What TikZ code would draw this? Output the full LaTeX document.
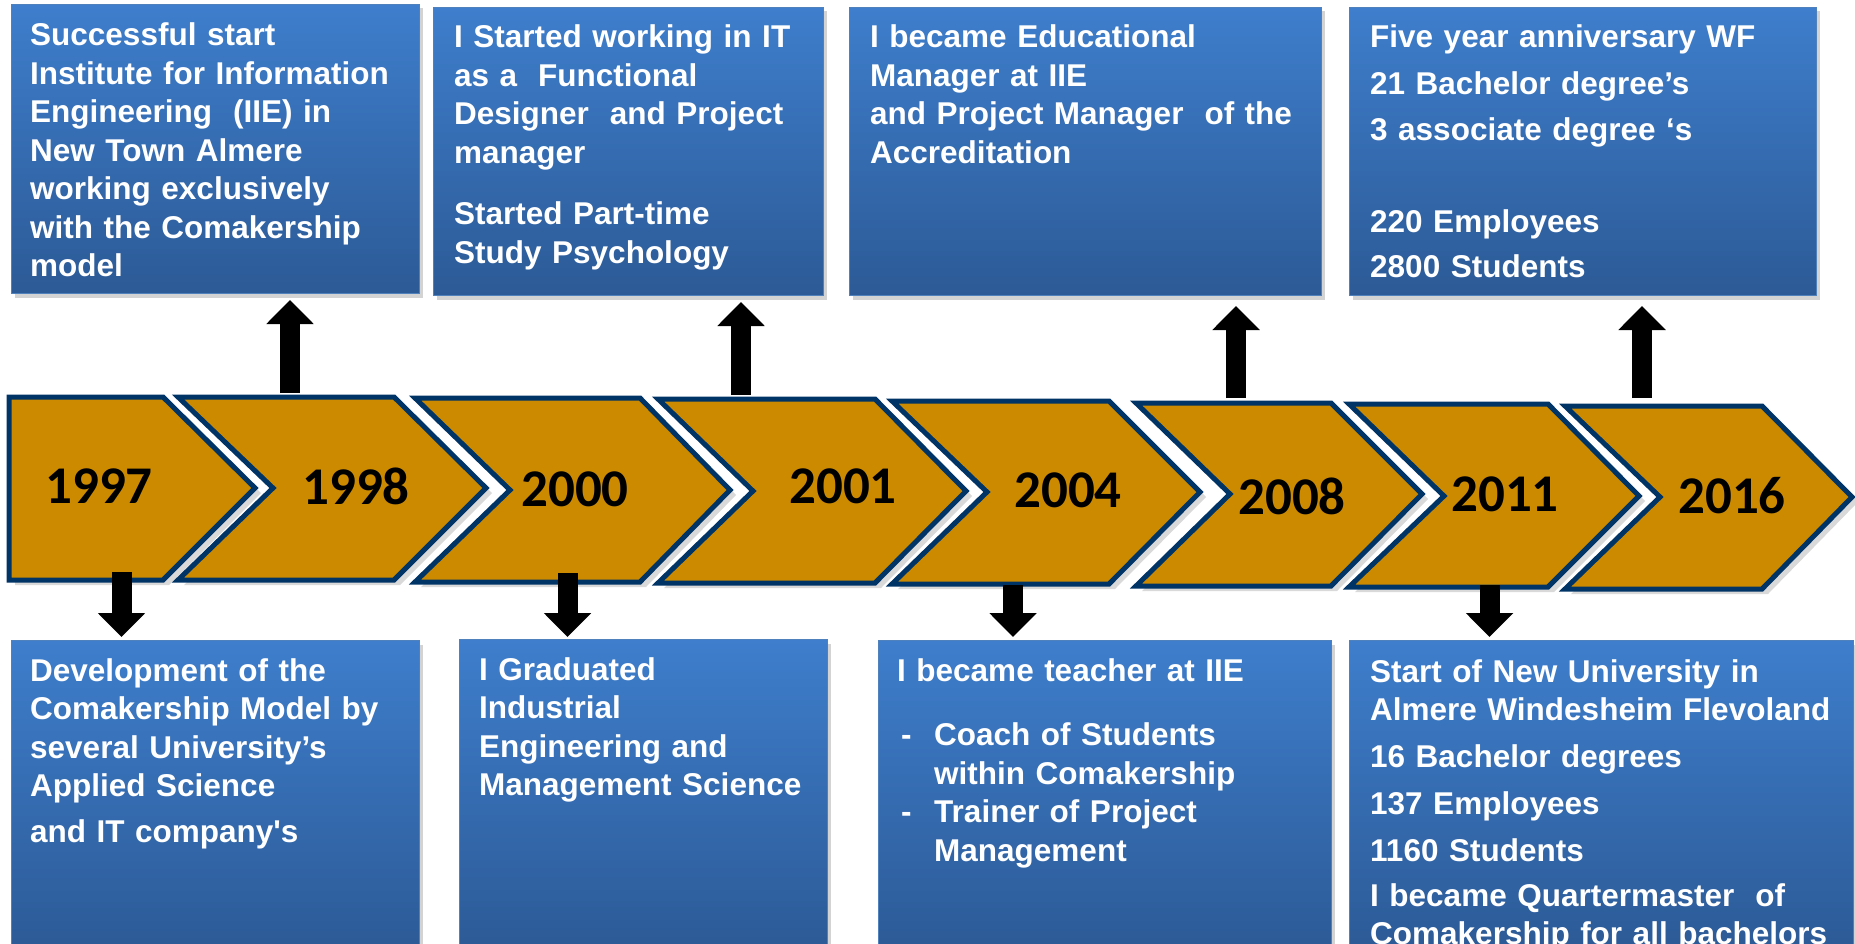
\documentclass[tikz,border=0pt]{standalone}
\usepackage{fontspec}
\usetikzlibrary{arrows.meta,shadows}
\newfontfamily\cardfamily{Liberation Sans}[Ligatures=TeXOff]
\newfontfamily\yearfamily{Carlito}
\definecolor{cardtop}{RGB}{62,126,204}
\definecolor{cardbot}{RGB}{44,90,150}
\definecolor{cardedge}{RGB}{79,129,189}
\definecolor{chevfill}{RGB}{204,138,0}
\definecolor{chevline}{RGB}{0,51,102}

\begin{document}
\begin{tikzpicture}
      [x=1pt, y=-1pt,
       card/.style={anchor=north west, inner sep=0pt, top color=cardtop, bottom color=cardbot,
         draw=cardedge, line width=1pt,
         drop shadow={shadow xshift=3pt, shadow yshift=-4pt, opacity=0.35}},
       cardtext/.style={anchor=base west, inner sep=0pt, text=white, align=left, text width=480pt,
         font=\cardfamily\bfseries\fontsize{31.5}{38.5}\selectfont},
       chev/.style={fill=chevfill, draw=chevline, line width=5pt,
         drop shadow={shadow xshift=6pt, shadow yshift=-5pt, opacity=0.3}},
       year/.style={inner sep=0pt, font=\yearfamily\bfseries\fontsize{53}{53}\selectfont},
       blk/.style={line width=20pt, -{Triangle[width=46pt, length=24pt]}}]
      \useasboundingbox (0,0) rectangle (1855,944);
      \clip (0,0) rectangle (1855,944);

      % cards above
      \node[card, minimum width=408pt, minimum height=289pt](b1) at (11,4) {};
      \node[card, minimum width=390pt, minimum height=288pt](b2) at (433,7) {};
      \node[card, minimum width=472pt, minimum height=288pt](b3) at (849,7) {};
      \node[card, minimum width=467pt, minimum height=288pt](b4) at (1349,7) {};
      \node[cardtext](t1) at (30,46) {Successful start\\ Institute for Information\\
        Engineering\ \ (IIE) in\\ New Town Almere\\ working exclusively\\
        with the Comakership\\ model};
      \node[cardtext](t2) at (454,48) {I Started working in IT\\ as a\ \ Functional\\
        Designer\ \ and Project\\ manager\\[23pt] Started Part-time\\ Study Psychology};
      \node[cardtext](t3) at (870,48) {I became Educational\\ Manager at IIE\\
        and Project Manager\ \ of the\\ Accreditation};
      \node[cardtext](t4) at (1370,48) {Five year anniversary WF\\[8pt] 21 Bachelor degree’s\\[7.5pt]
        3 associate degree ‘s\\[53.5pt] 220 Employees\\[7pt] 2800 Students};

      % cards below
      \node[card, minimum width=408pt, minimum height=310pt](b5) at (11,640) {};
      \node[card, minimum width=368pt, minimum height=310pt](b6) at (459,639) {};
      \node[card, minimum width=453pt, minimum height=310pt](b7) at (878,640) {};
      \node[card, minimum width=504pt, minimum height=310pt](b8) at (1349,640) {};
      \node[cardtext](t5) at (30,681) {Development of the\\ Comakership Model by\\
        several University’s\\ Applied Science\\[7.5pt] and IT company's};
      \node[cardtext](t6) at (479,680) {I Graduated\\ Industrial\\ Engineering and\\
        Management Science};
      \node[cardtext](t7) at (897,681) {I became teacher at IIE\\[26pt]
        \makebox[37pt][l]{\hspace{4pt}-}Coach of Students\\
        \hspace*{37pt}within Comakership\\
        \makebox[37pt][l]{\hspace{4pt}-}Trainer of Project\\
        \hspace*{37pt}Management};
      \node[cardtext](t8) at (1370,682) {Start of New University in\\ Almere Windesheim Flevoland\\[8pt]
        16 Bachelor degrees\\[8.5pt] 137 Employees\\[8.5pt] 1160 Students\\[6.5pt]
        I became Quartermaster\ \ of\\ Comakership for all bachelors};

      % time line
      \draw[chev] (9,397) -- (163,397) -- (255,488) -- (163,580) -- (9,580) -- cycle;
      \draw[chev] (178,397) -- (394,397) -- (486,488) -- (394,580) -- (178,580) -- (273,488) -- cycle;
      \draw[chev] (415,398) -- (640,398) -- (730,490) -- (640,582) -- (415,582) -- (510,490) -- cycle;
      \draw[chev] (658,399) -- (875,399) -- (966,491) -- (875,583) -- (658,583) -- (753,491) -- cycle;
      \draw[chev] (892,401) -- (1109,401) -- (1200,492) -- (1109,584) -- (892,584) -- (987,492) -- cycle;
      \draw[chev] (1136,403) -- (1331,403) -- (1422,494) -- (1331,586) -- (1136,586) -- (1230,494) -- cycle;
      \draw[chev] (1349,404) -- (1548,404) -- (1639,496) -- (1548,587) -- (1349,587) -- (1444,496) -- cycle;
      \draw[chev] (1565,406) -- (1762,406) -- (1852,497) -- (1762,589) -- (1565,589) -- (1660,497) -- cycle;
      \node[year](y1997) at (99,486) {1997};
      \node[year](y1998) at (356,486) {1998};
      \node[year](y2000) at (575,489) {2000};
      \node[year](y2001) at (843,486) {2001};
      \node[year](y2004) at (1068,490) {2004};
      \node[year](y2008) at (1292,496) {2008};
      \node[year](y2011) at (1505,494) {2011};
      \node[year](y2016) at (1732,496) {2016};

      % arrows to the cards
      \coordinate(u1) at (290,393);
      \coordinate(u2) at (741,395);
      \coordinate(u3) at (1236,398);
      \coordinate(u4) at (1642,398);
      \coordinate(d1) at (121.5,572);
      \coordinate(d2) at (567.5,573);
      \coordinate(d3) at (1013,585);
      \coordinate(d4) at (1489.5,585);
      \draw[blk, shorten >=6pt](u1) -- (u1 |- b1.south);
      \draw[blk, shorten >=6pt](u2) -- (u2 |- b2.south);
      \draw[blk, shorten >=10pt](u3) -- (u3 |- b3.south);
      \draw[blk, shorten >=10pt](u4) -- (u4 |- b4.south);
      \draw[blk, shorten >=3pt](d1) -- (d1 |- b5.north);
      \draw[blk, shorten >=2pt](d2) -- (d2 |- b6.north);
      \draw[blk, shorten >=3pt](d3) -- (d3 |- b7.north);
      \draw[blk, shorten >=3pt](d4) -- (d4 |- b8.north);
  \end{tikzpicture}
\end{document}
